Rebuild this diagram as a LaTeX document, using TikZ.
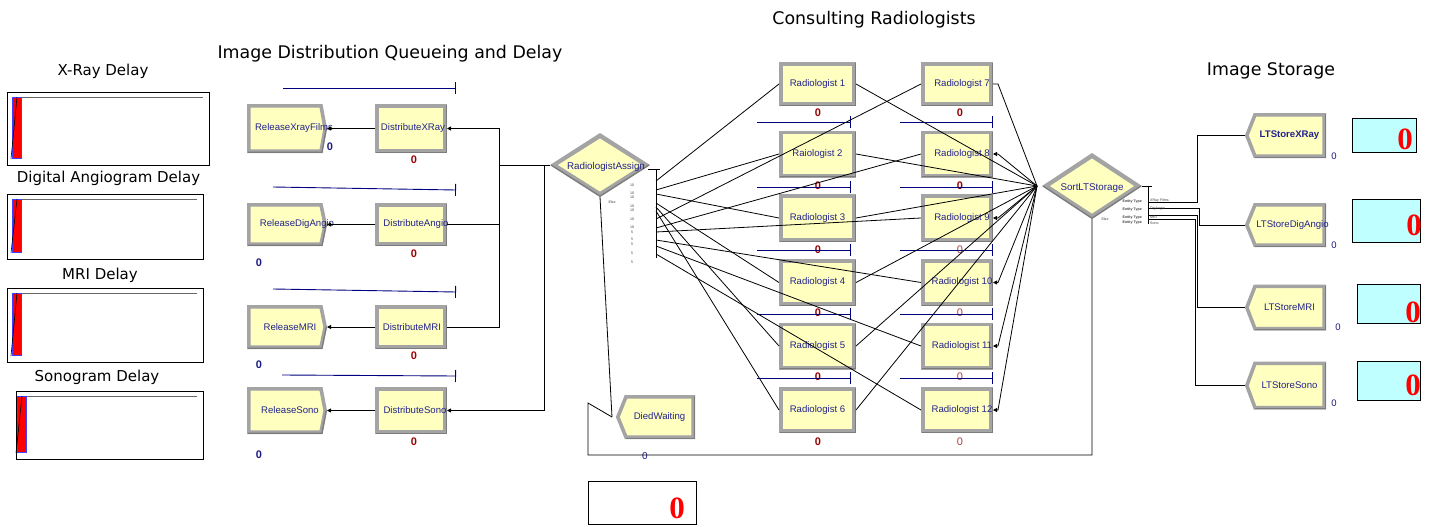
\documentclass[tikz,border=0pt]{standalone}
\usepackage{fontspec}
\setmainfont{Liberation Sans}
\newfontfamily\dejavu{DejaVu Sans}
\newfontfamily\lserif{Liberation Serif}
\usetikzlibrary{arrows.meta}
\definecolor{myellow}{HTML}{FFFFC0}
\definecolor{mgray}{HTML}{A4A4A4}
\definecolor{mdark}{HTML}{7C7C7C}
\definecolor{mblue}{HTML}{22228C}
\definecolor{cblue}{HTML}{1A1A80}
\definecolor{cred}{HTML}{990000}
\definecolor{qnavy}{HTML}{000080}
\definecolor{ccyan}{HTML}{C0FFFF}
\tikzset{
 conn/.style={draw=black, line width=0.8pt},
 arr/.style={-{Triangle[length=4pt,width=4pt]}},
 rarr/.style={{Triangle[length=4pt,width=4pt]}-},
 queue/.style={draw=qnavy, line width=0.9pt, -{Bar[width=12pt,line width=0.9pt]}},
 modbox/.style={draw=mgray, fill=myellow, line width=3.6pt, inner sep=0pt},
 modpoly/.style={draw=mgray, fill=myellow, line width=3.6pt, line join=miter},
 bevel/.style={draw=mdark, line width=1.3pt},
 geo/.style={inner sep=0pt, outer sep=0pt},
 modlab/.style={inner sep=0pt, text=mblue, font=\fontsize{9.6}{10}\selectfont},
 ttl/.style={inner sep=0pt, font=\dejavu\fontsize{15}{18}\selectfont},
 ttlb/.style={inner sep=0pt, font=\dejavu\fontsize{17.4}{20}\selectfont},
 cntB/.style={inner sep=0pt, text=cblue, font=\bfseries\fontsize{11}{12}\selectfont},
 cntBl/.style={inner sep=0pt, text=cblue, font=\fontsize{9.5}{11}\selectfont},
 cntR/.style={inner sep=0pt, text=cred, font=\bfseries\fontsize{11}{12}\selectfont},
 cntRl/.style={inner sep=0pt, text=cred!75!white, font=\fontsize{11}{12}\selectfont},
 big0/.style={inner sep=0pt, text=red, font=\lserif\bfseries\fontsize{31}{34}\selectfont},
 tinylab/.style={inner sep=0pt, font=\fontsize{3.6}{4}\selectfont, text=black!75},
 plot/.style={draw=black, line width=0.8pt, inner sep=0pt, outer sep=0pt, anchor=north west},
 cbox/.style={draw=black, line width=0.8pt, fill=ccyan, inner sep=0pt, outer sep=0pt, anchor=north west},
}
% name, cx, cy, w, h, label, text xshift
\newcommand\mkRect[7]{%
 \node[modbox, minimum width={#4pt-3.6pt}, minimum height={#5pt-3.6pt}] (#1) at (#2,#3) {};
 \draw[bevel] ({#2+#4/2-0.7},{#3-#5/2+1}) -- ({#2+#4/2-0.7},{#3+#5/2-0.7}) -- ({#2-#4/2+1},{#3+#5/2-0.7});
 \node[modlab] (#1-t) at ([xshift=#7pt]#1.center) {#6};}
\newcommand\mkRel[7]{%
 \draw[modpoly] ({#2-#4/2+1.8},{#3-#5/2+1.8}) -- ({#2+#4/2-6},{#3-#5/2+1.8}) -- ({#2+#4/2-1.8},#3) -- ({#2+#4/2-6},{#3+#5/2-1.8}) -- ({#2-#4/2+1.8},{#3+#5/2-1.8}) -- cycle;
 \draw[bevel] ({#2+#4/2-0.7},#3) -- ({#2+#4/2-5},{#3+#5/2-0.7}) -- ({#2-#4/2+1},{#3+#5/2-0.7});
 \node[geo, minimum width=#4pt, minimum height=#5pt] (#1) at (#2,#3) {};
 \node[modlab] (#1-t) at ([xshift=#7pt]#1.center) {#6};}
\newcommand\mkDisp[7]{%
 \draw[modpoly] ({#2-#4/2+1.8},#3) -- ({#2-#4/2+10},{#3-#5/2+1.8}) -- ({#2+#4/2-1.8},{#3-#5/2+1.8}) -- ({#2+#4/2-1.8},{#3+#5/2-1.8}) -- ({#2-#4/2+10},{#3+#5/2-1.8}) -- cycle;
 \draw[bevel] ({#2+#4/2-0.7},{#3-#5/2+1}) -- ({#2+#4/2-0.7},{#3+#5/2-0.7}) -- ({#2-#4/2+10},{#3+#5/2-0.7});
 \node[geo, minimum width=#4pt, minimum height=#5pt] (#1) at (#2,#3) {};
 \node[modlab] (#1-t) at ([xshift=#7pt]#1.center) {#6};}
\newcommand\mkDia[7]{%
 \fill[mgray] ({#2-#4/2},#3) -- (#2,{#3-#5/2}) -- ({#2+#4/2},#3) -- (#2,{#3+#5/2}) -- cycle;
 \draw[bevel] ({#2+#4/2-1},#3) -- (#2,{#3+#5/2-0.8}) -- ({#2-#4/2+1},#3);
 \fill[myellow] ({#2-#4/2+8},#3) -- (#2,{#3-#5/2+5.5}) -- ({#2+#4/2-8},#3) -- (#2,{#3+#5/2-5.5}) -- cycle;
 \node[geo, minimum width=#4pt, minimum height=#5pt] (#1) at (#2,#3) {};
 \node[modlab, font=\fontsize{9.8}{11}\selectfont] (#1-t) at ([xshift=#7pt,yshift=-2pt]#1.center) {#6};}
% name, x0, y0, x1, y1, bar inset
\newcommand\mkPlot[6]{%
 \node[plot, minimum width={#4pt-#2pt}, minimum height={#5pt-#3pt}] (#1) at (#2,#3) {};
 \draw[black!60, line width=0.8pt] ({#2+5},{#3+5}) -- ({#4-6},{#3+5});
 \draw[fill=red, draw=blue!75, line width=0.7pt] ({#2+#6},{#3+5}) rectangle ({#2+#6+9},{#5-7});
 \draw[black, line width=0.6pt] ({#2+#6-1},{#5-6}) -- ({#2+#6+5},{#3+5});}
\begin{document}
\begin{tikzpicture}[x=1pt,y=-1pt]
\useasboundingbox (0,0) rectangle (1432,527);
\fill[white] (0,0) rectangle (1432,527);

% titles
\node[ttl] (t1) at (103,71) {X-Ray Delay};
\node[ttl] (t2) at (108.5,178) {Digital Angiogram Delay};
\node[ttl] (t3) at (100,275) {MRI Delay};
\node[ttl] (t4) at (97,377) {Sonogram Delay};
\node[ttlb] (t5) at (390,54) {Image Distribution Queueing and Delay};
\node[ttlb] (t6) at (874,20) {Consulting Radiologists};
\node[ttlb] (t7) at (1271,71) {Image Storage};

% plots
\mkPlot{pX}{7}{92}{209}{165}{5}
\mkPlot{pA}{7}{194}{203}{259}{5}
\mkPlot{pM}{7}{288}{203}{362}{5}
\mkPlot{pS}{16}{391}{203}{459}{1}

% queues (distribution)
\draw[queue] (283,88) -- (456,88);
\draw[queue] (273,187) -- (456,190);
\draw[queue] (273,289) -- (456,292);
\draw[queue] (282,375) -- (456,376);

% release & distribute modules
\mkRel{relX}{287}{128.5}{80}{49}{ReleaseXrayFilms}{7}
\mkRel{relA}{287}{224.5}{80}{43}{ReleaseDigAngio}{10}
\mkRel{relM}{287}{327}{80}{44}{ReleaseMRI}{3}
\mkRel{relS}{287}{410.5}{80}{47}{ReleaseSono}{3}
\mkRect{distX}{411}{128.5}{72}{49}{DistributeXRay}{2}
\mkRect{distA}{411}{224.5}{72}{43}{DistributeAngio}{5}
\mkRect{distM}{411}{327}{72}{44}{DistributeMRI}{1}
\mkRect{distS}{411}{410.5}{72}{47}{DistributeSono}{4}

\node[cntB] (cRX) at (330,147) {0};
\node[cntB] (cRA) at (259,263) {0};
\node[cntB] (cRM) at (259,365) {0};
\node[cntB] (cRS) at (259,455) {0};
\node[cntR] (cDX) at (414,160) {0};
\node[cntR] (cDA) at (414,254) {0};
\node[cntR] (cDM) at (414,356) {0};
\node[cntR] (cDS) at (414,442) {0};

\draw[conn, arr] (distX.west) -- (relX.east);
\draw[conn, arr] (distA.west) -- (relA.east);
\draw[conn, arr] (distM.west) -- (relM.east);
\draw[conn, arr] (distS.west) -- (relS.east);

% assign diamond
\mkDia{assign}{600}{165}{100}{64}{RadiologistAssign}{6}
\coordinate (jA) at (499,165);
\coordinate (jB) at (544,165);
\draw[conn] (assign.west) -- (jA);
\draw[conn, arr] (jA) |- (distX.east);
\draw[conn] (jA) |- (distA.east);
\draw[conn] (jA) |- (distM.east);
\draw[conn, arr] (jB) |- (distS.east);

\coordinate (bar0) at (656,169);
\coordinate (bar1) at (656,258);
\draw[conn] (648,169) -- (660,169);
\draw[conn, line width=1pt] (bar0) -- (bar1);
\node[tinylab] (else1) at (612,202) {Else};
\foreach \y/\t in {185/10,193/10,197/10,206/10,210/10,219/10,227/10,232/5,239/5,244/5,253/5,262/5}
  \node[tinylab] (lab\y) at (632,\y) {\t};

% radiologists
\foreach \n/\y/\h in {1/84/44,2/154/47,3/218/48,4/282.5/47,5/346/47,6/410/46}{
  \pgfmathtruncatemacro{\m}{\n+6}
  \ifnum\n=2
    \mkRect{r\n}{817.5}{\y}{77}{\h}{Raiologist 2}{0}
  \else
    \mkRect{r\n}{817.5}{\y}{77}{\h}{Radiologist \n}{0}
  \fi
  \mkRect{r\m}{957}{\y}{72}{\h}{Radiologist \m}{5}
}
\foreach \n/\y in {1/113,2/186,3/250,4/313,5/377,6/442}{
  \node[cntR] (cr\n) at (818,\y) {0};
}
\node[cntR] (cr7) at (960,113) {0};
\node[cntR] (cr8) at (960,186) {0};
\node[cntRl] (cr9) at (960,250) {0};
\node[cntRl] (cr10) at (960,313) {0};
\node[cntRl] (cr11) at (960,377) {0};
\node[cntRl] (cr12) at (960,442) {0};
\foreach \y in {122,187,250,314,378}{
  \draw[queue] (757,\y) -- (851,\y);
  \draw[queue] (900,\y) -- (993,\y);
}

% assign -> radiologists
\foreach \i/\y in {1/181,2/190,3/194,4/203,5/207,6/211,7/219,8/228,9/232,10/240,11/246,12/254}{
  \coordinate (s\i) at (656,\y);
  \draw[conn] (s\i) -- (r\i.west);
}

% radiologists -> sort
\coordinate (sortin) at (1037,186);
\foreach \i in {1,...,6}{ \draw[conn] (r\i.east) -- (sortin); }
\draw[conn] (r7.east) -- ++(5,0) -- (sortin);
\foreach \i in {8,...,12}{ \draw[conn, rarr] (r\i.east) -- ++(5,0) -- (sortin); }

% sort diamond
\mkDia{sort}{1092}{186}{100}{66}{SortLTStorage}{0}
\draw[conn] (sort.east) -- ++(10,0);
\draw[conn] (1148,186) -- (1148,224);

% LT storage
\mkDisp{ltX}{1285.5}{135.5}{81}{45}{\bfseries LTStoreXRay}{4}
\mkDisp{ltA}{1285.5}{225}{81}{44}{LTStoreDigAngio}{7}
\mkDisp{ltM}{1285.5}{307.5}{81}{46}{LTStoreMRI}{4}
\mkDisp{ltS}{1285.5}{385.5}{81}{48}{LTStoreSono}{4}
\node[cntBl] (cLX) at (1334,156) {0};
\node[cntBl] (cLA) at (1334,245) {0};
\node[cntBl] (cLM) at (1338,327) {0};
\node[cntBl] (cLS) at (1334,403) {0};

\coordinate (o1) at (1148,202);
\coordinate (o2) at (1148,208);
\coordinate (o3) at (1148,215);
\coordinate (o4) at (1148,219);
\draw[conn] (o1) -- (1197,202) |- (ltX.west);
\draw[conn] (o2) -- (1199,208) |- (ltA.west);
\draw[conn] (o3) -- (1197,215) |- (ltM.west);
\draw[conn] (o4) -- (1195,219) |- (ltS.west);
\node[tinylab, font=\bfseries\fontsize{3.6}{4}\selectfont, anchor=east] (e1) at (1142,202) {Entity Type};
\node[tinylab, font=\bfseries\fontsize{3.6}{4}\selectfont, anchor=east] (e2) at (1142,210) {Entity Type};
\node[tinylab, font=\bfseries\fontsize{3.6}{4}\selectfont, anchor=east] (e3) at (1142,218) {Entity Type};
\node[tinylab, font=\bfseries\fontsize{3.6}{4}\selectfont, anchor=east] (e4) at (1142,223) {Entity Type};
\node[tinylab, anchor=west] (v1) at (1150,201) {XRay Films};
\node[tinylab, anchor=west] (v2) at (1150,209) {DigAngio};
\node[tinylab, anchor=west] (v3) at (1150,217) {MRI};
\node[tinylab, anchor=west] (v4) at (1150,223) {Sono};
\node[tinylab] (else2) at (1105,219) {Else};

% cyan counters
\node[cbox, minimum width=64pt, minimum height=34pt] (kX) at (1352,118) {};
\node[cbox, minimum width=68pt, minimum height=43pt] (kA) at (1352,199) {};
\node[cbox, minimum width=63pt, minimum height=39pt] (kM) at (1357,284) {};
\node[cbox, minimum width=63pt, minimum height=39pt] (kS) at (1357,361) {};
\node[big0] (zX) at (1405,139) {0};
\node[big0] (zA) at (1414,225) {0};
\node[big0] (zM) at (1413,312) {0};
\node[big0] (zS) at (1413,385) {0};

% died waiting
\mkDisp{died}{655.5}{417}{79}{44}{DiedWaiting}{4}
\node[cntB, font=\fontsize{10}{11}\selectfont] (cDW) at (645,456) {0};
\coordinate (b1) at (588,455);
\coordinate (b2) at (588,403);
\draw[conn] (sort.south) |- (b1) -- (b2) -- ([xshift=-4pt]died.west);
\draw[conn] (assign.south) -- ([xshift=-4pt]died.west);
\node[draw=black, line width=0.8pt, inner sep=0pt, minimum width=108pt, minimum height=43pt, anchor=north west] (kD) at (588,481) {};
\node[big0] (zD) at (677,508) {0};
\end{tikzpicture}
\end{document}
